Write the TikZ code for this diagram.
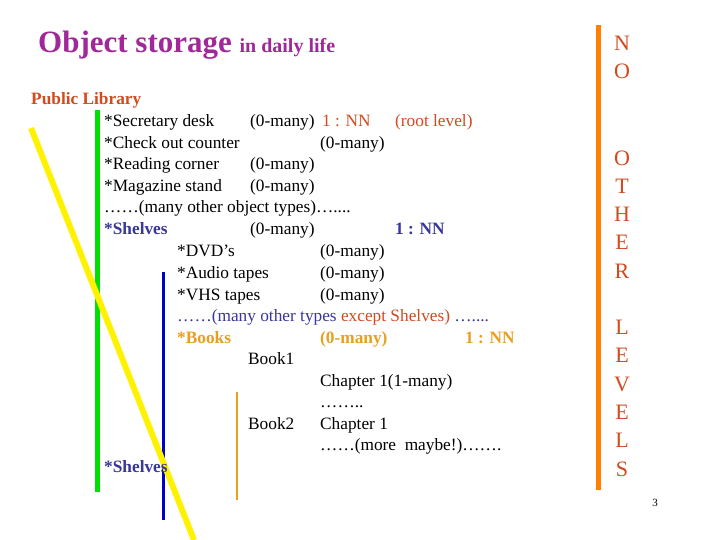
\documentclass[tikz,border=0pt]{standalone}
\usepackage{fontspec}
\setmainfont{Liberation Serif}
\definecolor{ttl}{HTML}{A0289A}
\definecolor{red1}{HTML}{D24A1E}
\definecolor{blu}{HTML}{38379A}
\definecolor{org}{HTML}{E8A020}
\tikzset{t/.style={anchor=base west,inner sep=0pt,font=\fontsize{17.3}{17}\selectfont},
 tb/.style={t,font=\bfseries\fontsize{17.3}{17}\selectfont},
 ltr/.style={anchor=base,inner sep=0pt,text=red1,font=\fontsize{22}{22}\selectfont}}
\begin{document}
\begin{tikzpicture}[x=1pt,y=-1pt]
\useasboundingbox (0,0) rectangle (720,540);
\fill[white] (0,0) rectangle (720,540);
% bars
\draw[line width=5pt,green!80!black!60!green] (97,110) -- (97,492);
\draw[line width=3pt,blue!80!black] (163,272) -- (163,520);
\draw[line width=2.5pt,org] (237,392) -- (237,500);
\draw[line width=6pt,yellow] (31,128) -- (194,540);
\draw[line width=5pt,orange] (598,25) -- (598,490);
% title
\node[anchor=base west,inner sep=0pt,text=ttl] (title) at (38,53) {\fontsize{31}{31}\selectfont\bfseries Object storage \fontsize{20}{20}\selectfont in daily life};
\node[tb,text=red1] (pl) at (31,105) {Public Library};
\foreach \n/\x/\y/\s in {r1/104/127/*Secretary desk, r1b/250/127/(0-many), r2/104/149/*Check out counter, r2b/320/149/(0-many), r3/104/170/*Reading corner, r3b/250/170/(0-many), r4/104/192/*Magazine stand, r4b/250/192/(0-many), r6b/250/235/(0-many), r7/177/256/*DVD’s, r7b/320/256/(0-many), r8/177/278/*Audio tapes, r8b/320/278/(0-many), r9/177/300/*VHS tapes, r9b/320/300/(0-many), r12/248/364/Book1, r13/320/386/Chapter 1(1-many), r14/320/407/…….., r15/248/429/Book2, r15b/320/429/Chapter 1}
  \node[t] (\n) at (\x,\y) {\s};
\node[t,text=red1] (r1c) at (322,127) {1 : NN};
\node[t,text=red1] (r1d) at (395,127) {(root level)};
\node[t] (r5) at (104,213) {……(many other object types)…....};
\node[tb,text=blu] (r6) at (104,235) {*Shelves};
\node[tb,text=blu] (r6c) at (395,235) {1 : NN};
\node[t] (r10) at (177,321) {\textcolor{blu}{……(many other types} \textcolor{red1}{except Shelves)} \textcolor{blu}{…....}};
\node[tb,text=org] (r11) at (177,343) {*Books};
\node[tb,text=org] (r11b) at (320,343) {(0-many)};
\node[tb,text=org] (r11c) at (465,343) {1 : NN};
\node[t] (r16) at (320,450) {……(more\ \ maybe!)…….};
\node[tb,text=blu] (r17) at (104,472) {*Shelves};
% right letters
\foreach \l/\y [count=\i] in {N/43,O/71,O/158,T/186,H/214,E/242,R/271,L/327,E/355,V/384,E/412,L/440,S/469}
  \node[ltr] (v\i) at (622,\y+7.5) {\l};
\node[inner sep=0pt,font=\fontsize{11}{11}\selectfont] (pg) at (655,503) {3};
\end{tikzpicture}
\end{document}
